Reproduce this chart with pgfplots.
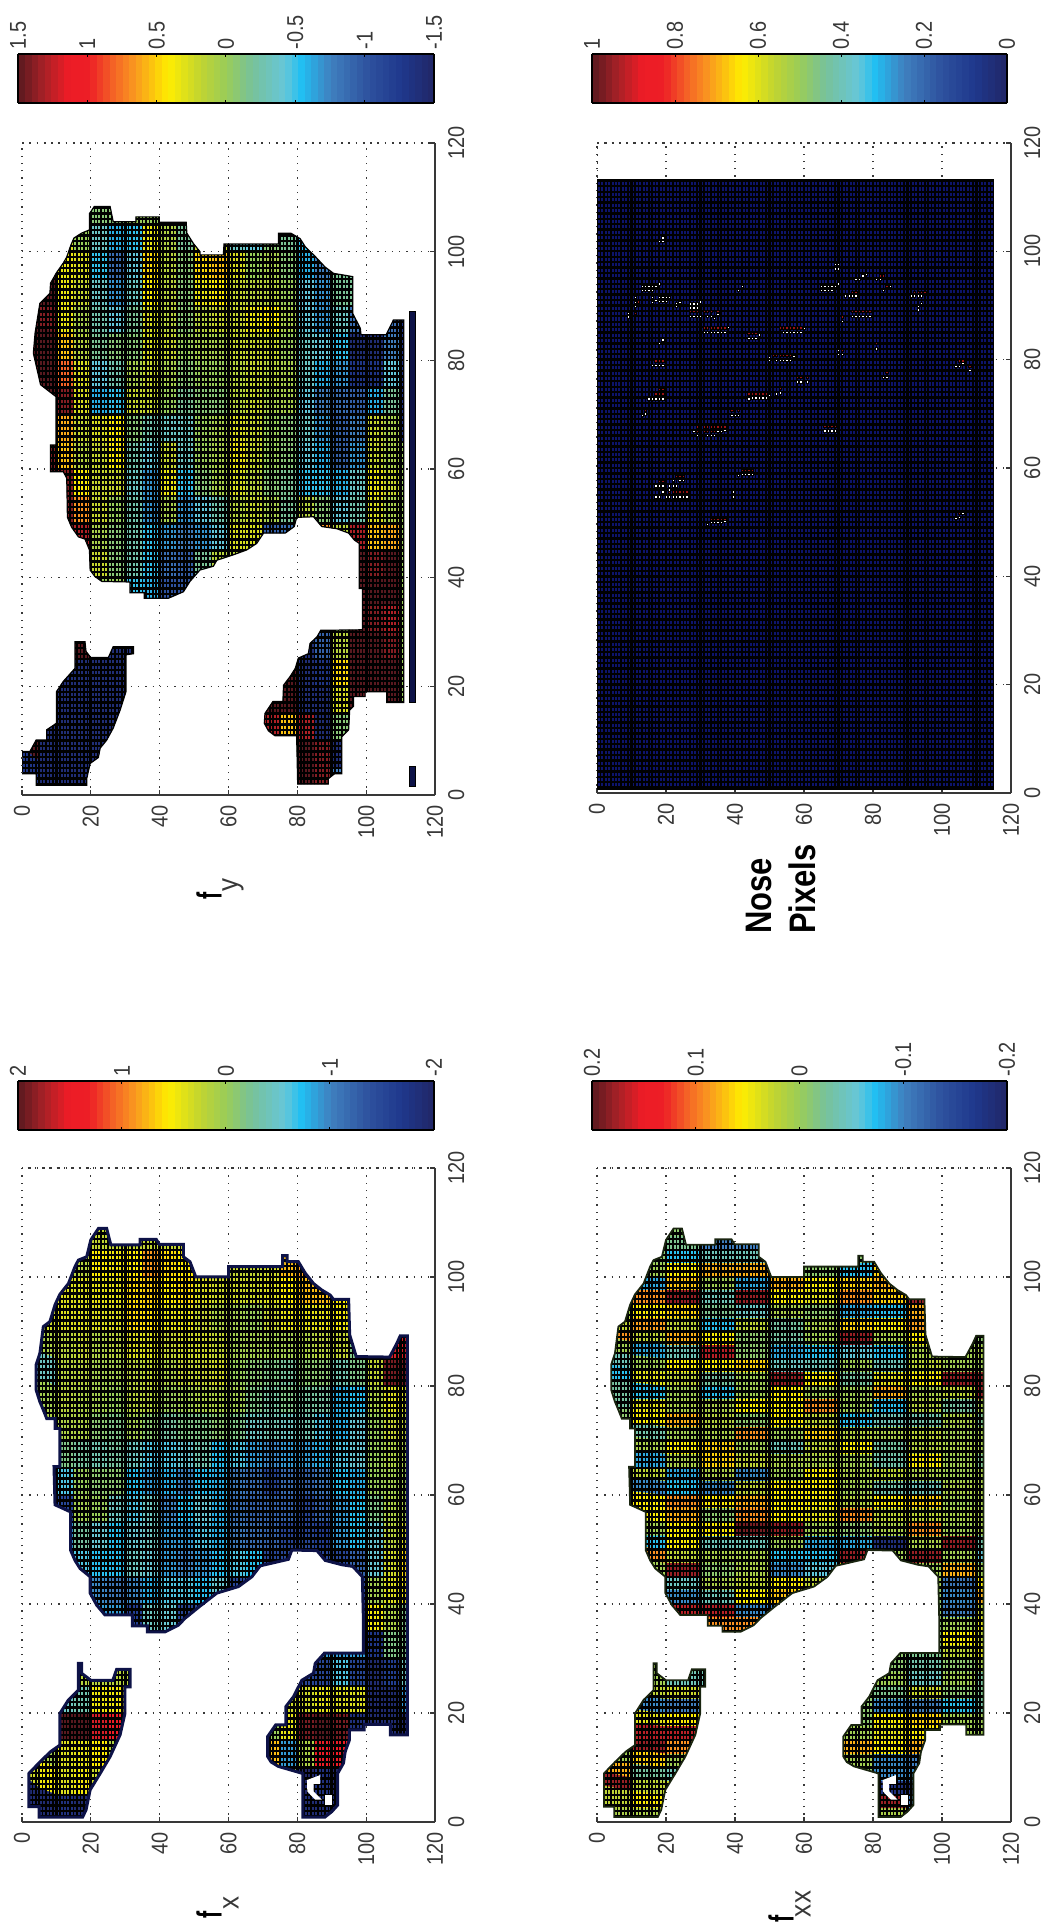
\documentclass[border=0pt]{standalone}
\usepackage{fontspec}
\setmainfont{Liberation Sans}
\usepackage{graphicx}
\usepackage{pgfplots}
\pgfplotsset{compat=1.18}
\pgfplotsset{colormap={refmap}{
rgb(0pt)=(.13,.15,.40) rgb(8pt)=(.12,.22,.55) rgb(16pt)=(.18,.32,.62) rgb(25pt)=(.25,.50,.75)
rgb(32pt)=(.13,.75,.95) rgb(36pt)=(.40,.78,.85) rgb(44pt)=(.47,.76,.60) rgb(50pt)=(.60,.80,.35)
rgb(56pt)=(.75,.83,.20) rgb(64pt)=(1,.93,0) rgb(72pt)=(.98,.60,.12) rgb(77pt)=(.96,.40,.15)
rgb(83pt)=(.93,.12,.15) rgb(88pt)=(.93,.11,.15) rgb(94pt)=(.65,.13,.15) rgb(100pt)=(.35,.10,.12)}}
\definecolor{ax}{gray}{.22}
\definecolor{navyb}{rgb}{.05,.07,.28}
\definecolor{nosefill}{rgb}{.05,.08,.42}
\definecolor{nosered}{rgb}{.6,.07,.07}
\definecolor{xxedge}{rgb}{.1,.14,.06}
\newcommand\tl[1]{\scalebox{.87}[1]{#1}}
\newcommand\cl[1]{\scalebox{.87}[1]{#1}}
\pgfplotsset{panel/.style={
 scale only axis,colormap name=refmap,
 xmin=0,xmax=120,ymin=0,ymax=120,
 axis x line*=bottom,axis y line*=right,
 axis line style={ax,line width=1.5bp},
 xtick={0,20,...,120},ytick={0,20,...,120},
 xticklabels={\tl{0},\tl{20},\tl{40},\tl{60},\tl{80},\tl{100},\tl{120}},
 yticklabels={\tl{0},\tl{20},\tl{40},\tl{60},\tl{80},\tl{100},\tl{120}},
 tick align=inside,major tick length=5bp,tick style={ax,line width=1.2bp},
 grid=major,grid style={ax,line width=1.3bp,dash pattern=on 1.3bp off 5.95bp},
 tick label style={font=\fontsize{23}{23}\selectfont,text=ax,inner sep=0pt},
 xticklabel style={rotate=90,anchor=east},
 yticklabel style={rotate=90,anchor=north},
 xticklabel shift=10bp,yticklabel shift=13bp,
 clip=true}}
\pgfplotsset{cbar/.style n args={4}{
 colorbar horizontal,colorbar sampled,
 colorbar style={samples=65,scale only axis,at={(#1,#2)},anchor=south west,
  width=#3,height=49bp,x dir=reverse,
  xticklabel pos=upper,axis line style={black,line width=1.3bp},
  tick align=inside,major tick length=3bp,tick style={black,line width=1bp},
  ytick=\empty,
  tick label style={font=\fontsize{23}{23}\selectfont,text=ax,inner sep=0pt},
  xticklabel style={rotate=90,anchor=west,xshift=1.5bp},xticklabel shift=3bp,#4}}}
\newcommand\meshlines{%
 \pgfplotsinvokeforeach{0,...,116}{\draw[black,line width=1.5bp] (##1,0) -- (##1,120);}%
 \pgfplotsinvokeforeach{0,...,116}{\draw[black,line width=2.4bp] (0,##1) -- (120,##1);}%
 \pgfplotsinvokeforeach{10,20,...,110}{\draw[black,line width=2.8bp] (##1,0) -- (##1,120);}%
}
\def\maskFY{(8.3,59.5) -- (8.3,64.4) -- (9.9,64.4) -- (9.9,73.3) -- (5.4,75.5) -- (3.3,81.3) -- (3.8,85) -- (5.2,90.5) -- (8.1,92.3) -- (8.3,94.2) -- (10,96.1) -- (12,97.9) -- (13,99) -- (14.2,101.2) -- (15.1,102.5) -- (17.3,103.4) -- (19.6,104) -- (19.6,107) -- (21,108.3) -- (25.6,108.3) -- (26.5,105.5) -- (33.1,105.5) -- (33.1,106.4) -- (39.9,106.4) -- (39.9,105.4) -- (47.7,105.4) -- (47.9,103.4) -- (49.8,101.5) -- (51.7,100) -- (51.7,99.4) -- (58.5,99.4) -- (58.7,101.4) -- (74.5,101.4) -- (74.5,103.4) -- (78.1,103.4) -- (80.8,102.4) -- (82.3,100.9) -- (85.2,99.1) -- (88,97.2) -- (90.5,96) -- (96.1,95.4) -- (96.1,88.6) -- (98.3,85.9) -- (98.5,84.7) -- (105.8,84.7) -- (107.9,87.4) -- (110.9,87.4) -- (110.9,17) -- (106,17) -- (106,19) -- (99.7,19) -- (99.7,18.1) -- (96.3,18.1) -- (96.3,16.3) -- (95.2,15.6) -- (94.9,12) -- (92.9,10.7) -- (92.9,3.9) -- (90.8,3.9) -- (89,3) -- (89,2) -- (80.1,2) -- (79.8,10.9) -- (73.5,10.9) -- (71.6,11.8) -- (70.4,13.2) -- (70.6,15) -- (72.9,17.2) -- (75.8,17.2) -- (76,20.2) -- (77.9,21.8) -- (79.4,23.3) -- (80.3,25.2) -- (83.2,26) -- (83.7,27.9) -- (85.7,29.1) -- (86.8,30.3) -- (98.9,30.4) -- (98.9,38) -- (98,38) -- (98,46.3) -- (96.6,46.9) -- (94.9,48.2) -- (91.5,49) -- (87.1,49.4) -- (84.7,51.2) -- (79.8,51.1) -- (79.1,49.4) -- (76.5,48.2) -- (70.2,48.2) -- (68.2,46.3) -- (65.3,45.1) -- (61.4,44.2) -- (56.6,43.2) -- (55.6,42.1) -- (51.7,41.4) -- (48.8,39.3) -- (46.9,37.4) -- (42.5,36.2) -- (35.5,36.2) -- (35.5,37.2) -- (31.4,37.2) -- (31.4,39.2) -- (23.2,39.3) -- (21.2,40.2) -- (19.8,41.4) -- (19.6,45.1) -- (18.3,47.1) -- (16.4,47.5) -- (14.4,49.3) -- (13.2,51.1) -- (13,58.3) -- (12,59.5) -- cycle
 (0,8) -- (0,3.9) -- (4.1,3.9) -- (4.1,1.8) -- (18.8,1.8) -- (18.8,3) -- (19.8,5.8) -- (22.2,6.9) -- (22.7,8.6) -- (24.6,10.1) -- (26.5,12.3) -- (28.5,15.6) -- (30.2,19) -- (30.2,25.8) -- (32.4,26) -- (32.4,27.3) -- (26.5,27.3) -- (25.1,25.3) -- (20,25.3) -- (18.6,26.4) -- (18.3,28.2) -- (15.4,28.2) -- (15.4,23.3) -- (12,20.9) -- (10,19) -- (10,13.2) -- (7.2,12) -- (7.2,10.1) -- (4.1,10.1) -- (2.3,8) -- cycle}
\def\maskFX{(9.6,58.2) -- (9.3,65.2) -- (11,65.2) -- (11,72.2) -- (9.6,72.2) -- (9.6,74) -- (7.2,74) -- (6.2,75.6) -- (5.2,77.1) -- (4.1,79.3) -- (4.1,83.9) -- (5.2,86) -- (6.2,90.9) -- (8.1,91.8) -- (9.6,94.9) -- (11,96.8) -- (13.5,98.8) -- (15.4,101.9) -- (16.4,103.1) -- (18.8,103.7) -- (20,106.8) -- (22.2,108.9) -- (24.6,108.9) -- (25.8,105.9) -- (34.3,105.9) -- (34.3,106.9) -- (39,106.9) -- (39.9,106) -- (46.9,106) -- (46.9,103.7) -- (48.8,102.8) -- (50.5,100) -- (60,100) -- (60,101.9) -- (75.7,101.9) -- (75.7,103.9) -- (77,103.9) -- (77,102.8) -- (80.3,102.8) -- (82.3,100.7) -- (84.7,98.8) -- (87.1,97.6) -- (89.5,96.7) -- (90.5,95.9) -- (94.9,95.9) -- (95.2,89.4) -- (97.1,85.4) -- (106.8,85.3) -- (108.9,87.8) -- (109.9,89.2) -- (112,89.2) -- (112,16) -- (107,16) -- (107,17.9) -- (99.4,17.9) -- (99.4,16.9) -- (95.1,16.9) -- (95.1,15) -- (93.9,12.9) -- (93.4,10.8) -- (91.7,8.9) -- (91.7,3.1) -- (90,1.9) -- (88,.9) -- (81.6,.9) -- (81.6,8.9) -- (74.5,10.2) -- (72.4,11) -- (71.4,12) -- (71.4,15.7) -- (73.7,17.8) -- (76.7,17.8) -- (76.7,21.2) -- (78.9,23) -- (81.3,26) -- (84.7,27.3) -- (85.2,29.1) -- (87.9,31) -- (99.2,31) -- (99.2,37) -- (98.9,45) -- (96.1,46.9) -- (93,47.2) -- (88.1,48) -- (85.7,49.8) -- (78.4,49.9) -- (77.4,48.2) -- (69.2,47) -- (66.8,45) -- (62.9,43.2) -- (56.6,42) -- (51.7,39.6) -- (47.4,37.4) -- (45.4,36.1) -- (41.6,34.9) -- (36.4,34.9) -- (36.4,36) -- (32.1,36) -- (32.1,38) -- (24.1,38) -- (21.7,39.8) -- (19.8,42) -- (19.8,45) -- (16.9,46.5) -- (15.4,48) -- (14.1,49.9) -- (14.1,56.9) -- cycle
 (2,8.9) -- (2,2.8) -- (5,2.8) -- (5,.9) -- (17.6,.9) -- (18.6,2.2) -- (19.8,5.9) -- (22.7,8.9) -- (25.6,12) -- (28.5,16) -- (29.9,19.9) -- (29.9,24.8) -- (31.4,24.8) -- (31.4,28) -- (27.5,28) -- (26.4,26) -- (20,26) -- (17.3,27.3) -- (17.3,29.1) -- (16.4,29.1) -- (16.4,24.2) -- (13.5,22.4) -- (11,19.9) -- (11,14.1) -- (8.3,12.9) -- (5.2,11) -- cycle}
\def\holeA{(82.8,7.7) -- (86.6,8.6) -- (86.6,7) -- (84.7,7) -- (84.7,5.6) -- (87.1,4.1) -- (85.2,4.1) -- (82.9,5.6) -- cycle}
\def\holeB{(88,3.1) -- (90,3.1) -- (90,5) -- (88,5) -- cycle}
\begin{document}
\begin{tikzpicture}[x=1bp,y=1bp]
\useasboundingbox (0,0) rectangle (1046,1931);
% ---------- f_y
\begin{axis}[panel,at={(22bp,1136bp)},anchor=origin,width=413bp,height=652bp,
 point meta min=-1.5,point meta max=1.5,
 cbar={-0.0097}{1.0613}{416bp}{xtick={-1.5,-1,-0.5,0,0.5,1,1.5},xticklabels={\cl{-1.5},\cl{-1},\cl{-0.5},\cl{0},\cl{0.5},\cl{1},\cl{1.5}}}]
\begin{scope}
\clip \maskFY;
\addplot[matrix plot*,draw=none,mesh/cols=23,point meta={abs(\thisrowno{0})>1.25?\thisrowno{0}:(\thisrowno{0}>0?\thisrowno{0}*0.68:\thisrowno{0}*0.85)}] table[header=false,row sep=crcr,x expr={mod(\coordindex,23)*5+2.5},y expr={112.5-5*floor(\coordindex/23)}] {
0\\0\\0\\0\\0\\0\\0\\0\\0\\0\\0\\0\\0\\0\\0\\0\\0\\0\\0\\0\\0\\0\\0\\
0\\0\\0\\-0.2\\-0.1\\-0.1\\0\\0\\0\\0\\0\\0\\0\\0\\0\\0\\0\\0\\0\\0\\0\\0\\0\\
0\\0\\0.4\\0\\-0.4\\-0.7\\-0.6\\0.5\\0.15\\-0.2\\0.3\\0.3\\-0.4\\-0.5\\-0.1\\-0.2\\-0.6\\-0.6\\-0.6\\-0.6\\-0.6\\-0.6\\-0.6\\
1.5\\1.5\\0.5\\0.4\\-0.6\\-1\\-0.5\\0.7\\0.2\\-0.1\\0.7\\0.8\\0.4\\0\\0.1\\-0.1\\-0.7\\-0.9\\-0.2\\-0.2\\-0.2\\-0.2\\0\\
1.5\\1.5\\0.5\\0.3\\-0.4\\-0.8\\-0.4\\0.6\\0.2\\-0.1\\0.5\\0.6\\0.3\\0.2\\0.2\\0\\-0.5\\-0.8\\-0.2\\-0.2\\-0.2\\-0.2\\0\\
1.5\\1.4\\0.5\\0.1\\-0.3\\-0.5\\-0.2\\0.4\\0.2\\-0.1\\0.2\\0.3\\0.3\\0.5\\0.6\\0.1\\-0.5\\-0.8\\-0.4\\-1\\-1.2\\-1\\-1.3\\
1.5\\1.5\\0.8\\0.2\\-0.2\\-0.1\\-0.1\\0.4\\0.3\\0\\0.1\\0.1\\0.3\\0.3\\0.3\\0\\-0.4\\-0.5\\-0.6\\-1.4\\-1.4\\-0.9\\-1.3\\
1.5\\1.5\\1.2\\0.4\\-0.5\\-0.3\\0.1\\0.3\\0.1\\-0.1\\0\\0\\0.2\\0.3\\0.2\\0.1\\-0.4\\-0.7\\-0.8\\-1.3\\-1.3\\-0.5\\-1.3\\
1.5\\1.5\\1.4\\0.4\\-0.7\\-0.6\\0.3\\0.3\\0\\-0.2\\-0.1\\-0.1\\0.2\\0.3\\0.1\\0.1\\-0.5\\-0.9\\-1\\-1.1\\-0.7\\-0.2\\-1.3\\
1.5\\1.5\\0.9\\0.3\\0.4\\0.6\\-0.1\\-0.3\\-0.4\\-0.4\\0\\0.1\\0.4\\0.3\\0\\-0.1\\-0.4\\-0.8\\-1.1\\-0.9\\0.3\\0.1\\-1.3\\
1.5\\1.4\\0.8\\0.2\\0.3\\0.6\\-0.3\\-0.5\\0.3\\-0.4\\0\\0.1\\0.5\\0.3\\0\\-0.1\\-0.5\\-0.7\\-1.1\\-0.8\\0.3\\0.1\\0\\
1.5\\1.5\\1.4\\0.6\\0.3\\0.3\\-0.4\\-0.8\\0.5\\-0.6\\-0.1\\0.1\\0.4\\0.2\\-0.1\\-0.2\\-0.6\\-0.6\\-0.7\\-0.4\\0.5\\0.3\\0\\
1.5\\1.5\\1.4\\1\\0.3\\0\\-0.3\\-0.8\\0.1\\-0.8\\-0.5\\-0.3\\0.2\\0.3\\0.1\\-0.2\\0.2\\-0.1\\-0.5\\-0.3\\0.4\\0.1\\0\\
1.5\\1.5\\1.5\\1.3\\0.1\\-0.1\\-0.3\\-0.6\\-0.8\\-0.9\\-0.8\\-0.5\\0.4\\0.4\\-1.1\\-1\\-0.3\\1\\0.2\\1.3\\0.8\\0.9\\0\\
1.5\\1.5\\1.5\\1.5\\0.3\\-0.1\\-0.3\\-0.6\\-1\\-1.1\\-0.2\\0.2\\0.2\\0.2\\0\\0\\0\\0\\0\\1.5\\1.4\\1.5\\0\\
0\\0\\0\\0\\0\\0\\-0.6\\-0.7\\-1.2\\-1.2\\0\\0\\0\\0\\0\\0\\0\\0\\0\\1.5\\1.5\\1.5\\0\\
0\\0\\0\\0\\0\\0\\0\\0\\0\\0\\0\\0\\0\\0\\0\\0\\0\\0\\0\\1.5\\1.4\\1.3\\0\\
-1.4\\-1.4\\-1.4\\1.5\\-1.4\\-1.4\\-1.4\\0\\0\\0\\0\\0\\0\\0\\0\\0\\-1.4\\-1.1\\0.2\\1.5\\1.5\\1.4\\0\\
-1.4\\-1.4\\-1.4\\-1.4\\-1.4\\-1.4\\-1.4\\0\\0\\0\\0\\0\\0\\0\\0\\1.5\\-1.4\\-1.3\\0.7\\1.5\\1.5\\1.5\\0\\
-1.4\\-1.4\\-1.4\\-1.4\\-1.4\\-1.4\\-1.4\\0\\0\\0\\0\\0\\0\\0\\1.5\\1.5\\-1.4\\-1.4\\0.4\\1.5\\1.5\\1.5\\0\\
-1.4\\-1.4\\-1.4\\-1.4\\-1.4\\-1.4\\-1.4\\0\\0\\0\\0\\0\\0\\0\\1.3\\0.8\\1.3\\-1.4\\-0.1\\0\\0\\0\\0\\
1.5\\-1.4\\-1.4\\-1.4\\-1.4\\-1.4\\-1.4\\0\\0\\0\\0\\0\\0\\0\\0\\0\\1.5\\1.4\\-1.4\\0\\0\\0\\0\\
-1.3\\-1.4\\-1.4\\-1.4\\-1.4\\-1.4\\-1.4\\0\\0\\0\\0\\0\\0\\0\\0\\0\\1.5\\1.4\\-0.9\\0\\0\\0\\0\\
};
\meshlines
\end{scope}
\draw[black,line width=1.2bp] \maskFY;
\addplot[fill=navyb,draw=black,line width=.8bp] coordinates {(112.7,17) (114.2,17) (114.2,89) (112.7,89)} -- cycle;
\addplot[fill=navyb,draw=black,line width=.8bp] coordinates {(112.7,1.5) (114.2,1.5) (114.2,5.3) (112.7,5.3)} -- cycle;
\draw[ax,line width=1.3bp,dash pattern=on 1.3bp off 5.95bp] (0,0) -- (0,120) -- (120,120);
\end{axis}
% ---------- Nose
\begin{axis}[panel,at={(597bp,1138bp)},anchor=origin,width=414bp,height=650bp,
 point meta min=0,point meta max=1,
 cbar={-0.0121}{1.0615}{415bp}{xtick={0,0.2,0.4,0.6,0.8,1},xticklabels={\cl{0},\cl{0.2},\cl{0.4},\cl{0.6},\cl{0.8},\cl{1}}}]
\begin{scope}
\clip (0,.6) rectangle (115,113.3);
\addplot[fill=nosefill,draw=none] coordinates {(0,.6) (115,.6) (115,113.3) (0,113.3)} -- cycle;
\meshlines
\end{scope}
\draw[black,line width=1bp] (0,.6) rectangle (115,113.3);
\addplot[only marks,mark=square*,mark size=1.15bp,mark options={draw=none,fill=nosered}] coordinates {
(92,92.5)(93,92.5)(94,92.5)(95,92.5)(74,92.5)(75,92.5)(83,95.5)(82,95.5)(84,93.6)
(27,88.9)(28,88.9)(29,88.9)(31,88.9)(32,88.9)(33,88.9)(35,88.9)(74,88.9)(75,88.9)(76,88.9)(77,88.9)(78,88.9)(79,88.9)(71,87.9)(11,88.6)(12,90.7)
(31,85.9)(32,85.9)(33,85.9)(34,85.9)(35,85.9)(36,85.9)(37,85.9)(53,85.9)(54,85.9)(55,85.9)(56,85.9)(57,85.9)(58,85.9)(59,85.9)
(44,84.9)(45,84.9)(46,84.9)(19,83.7)(81,83)(71,81.7)
(51,80.8)(52,80.8)(53,80.8)(54,80.8)(55,80.8)(56,80.8)(57,80.8)(17,79.8)(18,79.8)(19,79.8)(105,79.8)(106,79.8)(108,78.8)
(58,76.8)(59,76.8)(61,76.8)(84,77.7)(53,74.7)(44,73.7)(45,73.7)(46,73.7)(47,73.7)(48,73.7)(49,73.7)(17,73.7)(18,73.7)(19,73.7)(18,74.6)(19,74.6)
(14,70.7)(39,70.7)(41,70.7)
(29,67.6)(31,67.6)(32,67.6)(33,67.6)(34,67.6)(35,67.6)(36,67.6)(37,67.6)(66,67.7)(67,67.7)(68,67.7)(69,67.7)(29,66.8)(31,66.8)(32,66.8)(33,66.8)(34,66.8)
(42,59.6)(43,59.6)(44,59.6)(45,59.6)(23,58.5)(24,58.5)(25,58.5)(22,57.6)(18,57.6)(19,57.6)
(19,55.6)(21,55.6)(22,55.6)(23,55.6)(24,55.6)(25,55.6)(26,55.6)
(33,50.6)(34,50.6)(35,50.6)(36,50.6)(37,50.6)(105,51.6)};
\addplot[only marks,mark=square*,mark size=1.15bp,mark options={draw=none,fill=white}] coordinates {
(19,102.5)(18,101.9)(19,101.9)(69,97.6)(70,97.6)(69,96.8)(70,96.8)(77,95.5)(78,95.8)(75,94.8)(76,94.8)(81,94.8)(82,94.8)
(13,93.6)(14,93.6)(15,93.6)(16,93.6)(17,93.6)(18,94)(13,92.8)(14,92.8)(15,92.8)(16,92.8)(42,93.6)(41,92.8)
(65,93.6)(66,93.6)(67,93.6)(68,93.6)(69,93.6)(70,94)(65,92.8)(66,92.8)(67,92.8)(68,92.8)(83,92.8)(85,93.6)
(91,91.8)(92,91.8)(93,91.8)(94,91.8)(72,91.8)(73,91.8)(74,91.8)(75,91.8)
(16,91.5)(17,91)(18,90.8)(19,90.8)(20,90.8)(18,91.5)(19,91.5)(20,91.5)(21,91.5)(16,90.6)(11,91.5)(11,90.6)(11,89.9)
(23,90.4)(24,90.6)(23,89.8)(27,90.3)(28,90.3)(29,90.3)(30,90.7)(27,89.6)(28,89.6)(29,89.6)(93,89.8)(94,90.4)(93,89.2)
(27,88)(28,88)(29,88)(30,88)(32,88)(33,88)(34,87.6)(35,88.4)(9,88.6)(9,87.9)(74,88)(75,88)(76,88)(77,88)(78,88)(79,88)(71,87.1)
(31,85)(32,85)(33,85)(34,85)(35,85)(36,85)(37,85)(38,86)(54,85)(55,85)(56,85)(57,85)(58,85)(59,85)(60,85.8)
(44,84)(45,84)(46,84)(47,84.6)(18,83)(19,83.7)(81,82)(70,81.7)(70,81)(71,81)
(50,80.4)(50,79.9)(52,79.9)(53,79.9)(54,79.9)(55,79.9)(56,79.9)(57,80.6)(16,79)(17,79)(18,79)(19,79)(104,78.8)(105,78.8)(106,79.4)(108,78)
(58,75.9)(59,75.9)(61,75.9)(83,76.8)(84,76.8)(52,73.7)(53,73.9)(44,72.8)(45,73)(46,73)(47,73)(48,73)(49,73)(50,73.4)
(15,72.8)(16,72.8)(17,72.8)(18,72.8)(19,72.8)(13,69.7)(14,70)(39,69.7)(40,69.7)(41,69.7)
(29,66)(32,66)(33,66)(34,66)(35,66.8)(36,66.8)(37,67)(28,66.8)(66,66.9)(67,66.9)(68,66.9)(69,66.9)
(41,58.7)(42,58.9)(43,58.9)(44,58.9)(45,58.9)(22,57.7)(24,57.7)(25,57.7)(17,56.7)(18,56.7)(19,56.7)(21,56.7)(22,56.7)(23,56.7)(21,56)
(17,54.7)(18,54.7)(20,54.7)(21,54.7)(22,54.7)(23,54.7)(24,54.7)(25,54.7)(26,54.7)(19,55.6)(39.5,55.6)(39.5,54.7)
(32,49.6)(33,50)(34,50)(35,50)(36,50)(37,50.2)(104,50.7)(105,50.9)(106,51.6)};
\draw[ax,line width=1.3bp,dash pattern=on 1.3bp off 5.95bp] (0,113.5) -- (0,120) -- (120,120);
\end{axis}
% ---------- f_x
\begin{axis}[panel,at={(22bp,109bp)},anchor=origin,width=413bp,height=654bp,
 point meta min=-2,point meta max=2,
 cbar={-0.0097}{1.058}{416bp}{xtick={-2,-1,0,1,2},xticklabels={\cl{-2},\cl{-1},\cl{0},\cl{1},\cl{2}}}]
\begin{scope}
\clip \maskFX;
\addplot[matrix plot*,draw=none,mesh/cols=23,point meta={abs(\thisrowno{0})>1.45?\thisrowno{0}:(\thisrowno{0}>0?\thisrowno{0}*0.62:\thisrowno{0}*0.88)}] table[header=false,row sep=crcr,x expr={mod(\coordindex,23)*5+2.5},y expr={112.5-5*floor(\coordindex/23)}] {
.4\\.4\\.4\\.4\\.4\\.4\\.4\\.4\\.4\\.4\\.4\\.4\\.4\\.4\\.4\\.4\\.4\\.4\\.4\\.4\\.4\\.4\\.4\\
.4\\.4\\.4\\.4\\.4\\.4\\.4\\.4\\.4\\.4\\.4\\.4\\.4\\.4\\.4\\.4\\.4\\.4\\.4\\.4\\.4\\.4\\.4\\
.3\\.3\\.3\\.3\\.9\\.8\\.9\\1.4\\1\\.9\\.5\\.5\\.4\\.4\\.5\\1.2\\1.4\\1\\1\\1\\1\\1\\1\\
.6\\.6\\.6\\.6\\.7\\.7\\1\\1.1\\.9\\1\\.6\\.5\\.5\\.5\\.6\\.9\\1.2\\1.2\\.9\\.9\\.9\\.9\\.9\\
.5\\.5\\.6\\.6\\.6\\.6\\1\\1\\.7\\.7\\.4\\.2\\.1\\0\\.4\\.7\\.7\\.7\\.8\\.8\\.8\\.8\\.8\\
.2\\.2\\.3\\.4\\.2\\.3\\.6\\.6\\.4\\.5\\.5\\.4\\.1\\.1\\.1\\.1\\.2\\.3\\.4\\-.2\\-.2\\1.6\\1.6\\
-.5\\-.5\\.3\\.3\\.1\\.1\\.3\\.4\\.2\\.4\\.4\\.5\\0\\-.1\\-.2\\-.3\\-.1\\-.1\\-.4\\-.2\\.4\\1.9\\1.9\\
.1\\.1\\.3\\.2\\.1\\0\\.3\\.3\\0\\.1\\.2\\.2\\.1\\-.2\\-.3\\-.2\\-.3\\-.3\\-.9\\-.8\\.2\\.6\\.6\\
.2\\.2\\.2\\.2\\-.1\\-.2\\.1\\-.1\\-.3\\-.2\\-.2\\-.1\\-.2\\-.5\\-.4\\-.5\\-.4\\-.7\\-.9\\-.6\\0\\.4\\.4\\
-.2\\-.2\\-.2\\-.3\\-.4\\-.3\\-.5\\-.7\\-.7\\-.6\\-.4\\-.8\\-.7\\-1\\-1.1\\-1\\-1\\-.9\\-.7\\-.6\\0\\.2\\.2\\
-.7\\-.7\\-.7\\0\\-.1\\-.1\\-.8\\-1\\-.9\\-1.1\\-.8\\-.9\\-1.2\\-1.3\\-1.5\\-1.3\\-1.4\\-1.2\\-.8\\-.9\\0\\.1\\.1\\
-1.5\\-1.5\\-1.5\\.1\\0\\-.5\\-.7\\-.5\\-1.1\\-.8\\-.6\\-.9\\-1.3\\-1.4\\-1.4\\-1.4\\-1.5\\-1.4\\-1\\-.8\\-.2\\.2\\.2\\
-1\\-1\\-1\\-.3\\-.6\\-.8\\-.6\\-.5\\-1\\-1\\-.7\\-.9\\-1.2\\-1.3\\-1.4\\-1.5\\-1.5\\-1.6\\-1\\-.8\\-.6\\.3\\.6\\
-1\\-1\\-1\\-.7\\-.8\\-.8\\-.5\\-.6\\-1\\-1.1\\-1\\-.8\\-.7\\-.8\\-1.5\\-1.5\\-1.5\\-1.5\\-1.5\\-1.4\\-.6\\.5\\1\\
-1\\-1\\-1\\-1\\-1.1\\-1.2\\-1.1\\-.9\\-.7\\-.7\\-.8\\-.6\\-1.5\\-1.5\\-1.5\\-1.5\\-1.5\\-1.5\\-1.5\\-1.5\\.1\\.6\\.8\\
-1\\-1\\-1\\-1\\-1\\-1\\-1.6\\-.5\\-.6\\-1.5\\-1.5\\-1.5\\-1.5\\-1.5\\-1.5\\-1.5\\-1.5\\-1.5\\-1.5\\-1.5\\.8\\.2\\-.2\\
-1\\-1\\-1\\-1\\-1\\-1\\-1\\-1\\-1\\-1\\-1\\-1\\-1\\-1\\-1\\-1\\-1\\-1\\-1\\-1\\-1.7\\-.2\\-.2\\
.3\\.3\\.3\\.3\\.3\\.3\\.3\\0\\0\\0\\0\\0\\0\\0\\0\\0\\-1.5\\-1.5\\-.7\\-1.5\\-1.9\\-1.6\\-.5\\
-.5\\-.5\\-.5\\-.4\\.8\\.8\\.8\\0\\0\\0\\0\\0\\0\\0\\0\\.5\\.5\\.7\\.6\\.6\\-1.9\\-1.9\\-1\\
2\\2\\2\\2\\1.6\\1.5\\1.5\\0\\0\\0\\0\\0\\0\\0\\0\\.7\\1.9\\2\\1.9\\-1.8\\-1.9\\-1.9\\-1.9\\
.1\\.1\\.6\\.7\\.9\\.2\\.2\\0\\0\\0\\0\\0\\0\\0\\1.2\\-1\\.2\\1.5\\1.5\\0\\0\\0\\0\\
.5\\.8\\.6\\.8\\.5\\.5\\.5\\0\\0\\0\\0\\0\\0\\0\\0\\0\\-2\\-1.8\\-2\\0\\0\\0\\0\\
-1.9\\-1.9\\-1.8\\-1.9\\-1.9\\-1.9\\-1.9\\0\\0\\0\\0\\0\\0\\0\\0\\0\\-1.9\\-1.9\\-1.9\\0\\0\\0\\0\\
};
\meshlines
\end{scope}
\draw[navyb,line width=3bp] \maskFX;
\fill[white] \holeA;
\fill[white] \holeB;
\draw[ax,line width=1.3bp,dash pattern=on 1.3bp off 5.95bp] (0,0) -- (0,120) -- (120,120);
\end{axis}
% ---------- f_xx
\begin{axis}[panel,at={(597bp,109bp)},anchor=origin,width=414bp,height=654bp,
 point meta min=-0.2,point meta max=0.2,
 cbar={-0.0121}{1.058}{415bp}{xtick={-0.2,-0.1,0,0.1,0.2},xticklabels={\cl{-0.2},\cl{-0.1},\cl{0},\cl{0.1},\cl{0.2}}}]
\begin{scope}
\clip \maskFX;
\addplot[matrix plot*,draw=none,mesh/cols=12,point meta={abs(\thisrowno{0})>.16?\thisrowno{0}:\thisrowno{0}*0.62-0.008}] table[header=false,row sep=crcr,x expr={mod(\coordindex,12)*10+5},y expr={113.75-2.5*floor(\coordindex/12)}] {
0\\0\\0\\0\\0\\0\\0\\0\\0\\0\\0\\0\\
0\\0\\0\\0\\0\\0\\0\\0\\0\\0\\0\\0\\
0\\0\\0\\0\\0\\0\\0\\0\\0\\0\\0\\0\\
0\\0\\-.02\\-.15\\-.15\\-.15\\0\\0\\0\\0\\0\\0\\
0\\0\\-.1\\-.05\\-.05\\-.1\\0\\0\\-.1\\0\\0\\0\\
0\\.02\\.1\\.14\\.14\\.05\\0\\-.1\\.12\\0\\0\\0\\
-.05\\-.12\\.13\\.02\\-.12\\.14\\.1\\.12\\.14\\.14\\0\\0\\
.02\\.16\\.18\\-.05\\.18\\.1\\.08\\.16\\.12\\.18\\0\\0\\
.02\\.1\\.12\\-.02\\-.06\\.03\\0\\-.12\\-.1\\.14\\0\\0\\
.05\\.15\\.05\\-.1\\.05\\-.03\\.03\\.12\\.1\\.15\\0\\0\\
.16\\.05\\.14\\.1\\0\\-.03\\.02\\.18\\.03\\.1\\0\\0\\
.02\\-.12\\-.05\\.17\\0\\-.12\\-.1\\-.08\\-.1\\.03\\.02\\.03\\
-.05\\.02\\.1\\.1\\.12\\-.06\\-.05\\.02\\-.05\\.05\\.02\\.02\\
-.1\\.08\\.05\\-.03\\.02\\.18\\.1\\-.03\\.08\\.1\\.18\\.18\\
-.03\\-.1\\.02\\-.1\\.02\\.1\\.02\\.02\\.14\\.03\\.05\\.18\\
-.03\\.08\\.03\\.03\\.1\\.1\\.16\\.02\\-.1\\.04\\-.03\\.03\\
0\\.1\\.14\\.04\\0\\.1\\.05\\-.1\\-.05\\-.04\\.03\\-.02\\
0\\-.04\\.02\\.03\\.16\\.02\\.12\\.04\\.03\\.05\\.02\\.03\\
0\\.03\\.1\\.12\\.02\\-.05\\.05\\.1\\-.03\\.04\\.03\\.03\\
0\\-.12\\.03\\.12\\.05\\.03\\.03\\.02\\-.04\\.1\\.02\\-.02\\
0\\.05\\-.12\\.03\\-.14\\.02\\.1\\.03\\.05\\.03\\.02\\.03\\
0\\-.14\\-.1\\-.14\\.05\\.1\\.1\\.02\\-.04\\-.05\\.03\\.03\\
.18\\.1\\.16\\.1\\.14\\.1\\.1\\.04\\.1\\.12\\.02\\.03\\
0\\.1\\.14\\0\\.16\\.1\\.08\\.16\\.05\\.05\\.03\\.03\\
0\\.02\\.1\\.1\\.19\\.18\\.02\\0\\.03\\.16\\.02\\.03\\
0\\-.1\\.1\\-.05\\-.05\\.02\\-.12\\-.12\\-.18\\.03\\.18\\-.04\\
0\\.16\\.05\\.03\\.03\\-.1\\-.1\\.18\\.02\\.18\\.02\\-.08\\
0\\.02\\.18\\0\\.03\\-.14\\-.08\\.08\\.02\\.02\\.14\\.02\\
0\\.02\\-.06\\.03\\.05\\.1\\.05\\.03\\.02\\.02\\-.16\\.1\\
0\\0\\-.14\\-.05\\.1\\.13\\-.14\\0\\0\\0\\-.14\\.14\\
0\\0\\.17\\.17\\-.14\\-.15\\0\\0\\0\\0\\-.15\\.05\\
0\\0\\0\\.16\\.16\\.16\\0\\0\\0\\0\\.02\\.08\\
0\\0\\0\\0\\0\\0\\0\\0\\0\\0\\.1\\.05\\
0\\0\\0\\0\\0\\0\\0\\0\\0\\-.02\\.05\\.08\\
.02\\.02\\-.03\\-.03\\0\\0\\0\\0\\0\\-.04\\0\\.03\\
.02\\.02\\-.05\\-.05\\0\\0\\0\\0\\.02\\-.06\\.02\\-.03\\
.02\\.05\\.06\\.02\\0\\0\\0\\0\\-.02\\.06\\0\\-.02\\
.02\\-.14\\-.15\\.02\\0\\0\\0\\0\\-.14\\-.15\\-.1\\-.04\\
.02\\.08\\.1\\.02\\0\\0\\0\\0\\.1\\.12\\.02\\.02\\
.02\\.17\\.17\\.03\\0\\0\\0\\.02\\.08\\.1\\.02\\.02\\
.02\\.18\\.16\\.03\\0\\0\\0\\.14\\.1\\.14\\.02\\.02\\
.02\\.12\\.02\\.03\\0\\0\\0\\.02\\-.14\\-.15\\.02\\.02\\
.14\\-.03\\-.05\\.03\\0\\0\\0\\0\\-.14\\-.14\\.02\\.02\\
.18\\.05\\.06\\.03\\0\\0\\0\\0\\-.18\\-.18\\.02\\.02\\
.05\\.1\\.03\\.02\\0\\0\\0\\0\\.18\\-.15\\.02\\.02\\
.03\\.03\\.03\\.03\\0\\0\\0\\0\\.03\\.03\\.02\\.02\\
};
\meshlines
\end{scope}
\draw[xxedge,line width=1.8bp] \maskFX;
\fill[white] \holeA;
\fill[white] \holeB;
\draw[ax,line width=1.3bp,dash pattern=on 1.3bp off 5.95bp] (0,0) -- (0,120) -- (120,120);
\end{axis}
% ---------- titles
\node[rotate=90,text=ax] at (233,1931-885) {\scalebox{.9}[1]{\fontsize{29}{29}\selectfont y}};
\node[rotate=90,text=black] at (209,1931-896) {\scalebox{.62}[1]{\fontsize{35}{35}\selectfont\bfseries f}};
\node[rotate=90,text=ax] at (231,1931-1903) {\scalebox{.9}[1]{\fontsize{29}{29}\selectfont x}};
\node[rotate=90,text=black] at (209,1931-1915) {\scalebox{.62}[1]{\fontsize{35}{35}\selectfont\bfseries f}};
\node[rotate=90,text=ax] at (803,1931-1904) {\scalebox{.9}[1]{\fontsize{29}{29}\selectfont xx}};
\node[rotate=90,text=black] at (781,1931-1919) {\scalebox{.62}[1]{\fontsize{35}{35}\selectfont\bfseries f}};
\node[rotate=90,text=black,align=left,font=\fontsize{37}{44}\selectfont\bfseries] at (781,1931-889) {\scalebox{.84}[1]{Nose}\\\scalebox{.84}[1]{Pixels}};
\end{tikzpicture}
\end{document}
